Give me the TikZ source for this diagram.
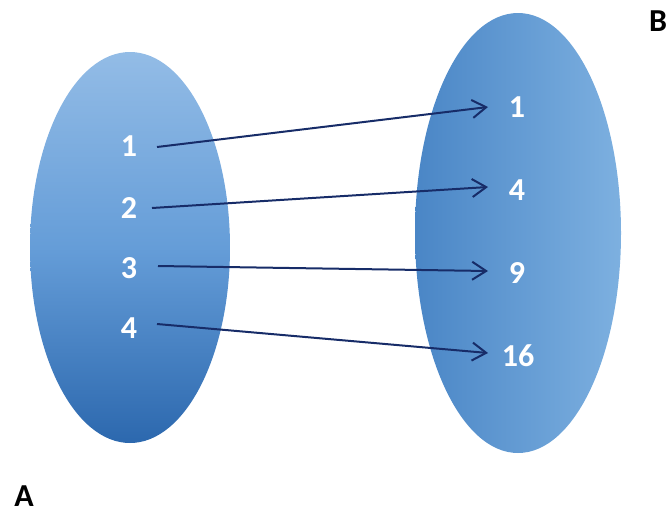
\documentclass[tikz,border=0pt]{standalone}
\usepackage{fontspec}
\setmainfont{Carlito}
\usetikzlibrary{arrows.meta,calc}
\definecolor{lefttop}{HTML}{93BCE6}
\definecolor{leftmid}{HTML}{659DD8}
\definecolor{leftbot}{HTML}{2C68AE}
\definecolor{rightl}{HTML}{4A86C6}
\definecolor{rightr}{HTML}{7DB0E0}
\definecolor{arrowc}{HTML}{172C68}
\tikzset{
  num/.style={text=white, font=\bfseries\fontsize{32}{32}\selectfont, inner sep=0pt, anchor=center},
  setlabel/.style={text=black, font=\bfseries\fontsize{32}{32}\selectfont, inner sep=0pt},
  maparrow/.style={draw=arrowc, line width=2pt, -{Straight Barb[length=14pt,width=18pt,line width=2pt]}}
}
\begin{document}
\begin{tikzpicture}[x=1pt,y=-1pt]
\useasboundingbox (0,0) rectangle (671,515);
% sets
\shade[shading=axis, top color=lefttop, bottom color=leftbot, middle color=leftmid] (130,247.5) ellipse [x radius=100, y radius=195.5];
\shade[left color=rightl, right color=rightr] (518,233) ellipse [x radius=103, y radius=220];
% domain labels
\node[num] (a1) at (129,146) {1};
\node[num] (a2) at (129,208) {2};
\node[num] (a3) at (129,268) {3};
\node[num] (a4) at (129,328) {4};
% codomain labels
\node[num] (b1) at (517,107) {1};
\node[num] (b2) at (517,190) {4};
\node[num] (b3) at (517,273) {9};
\node[num] (b4) at (518,356) {16};
% set names
\node[setlabel] (A) at (24,496) {A};
\node[setlabel] (B) at (658,21) {B};
% arrows
\coordinate (s1) at ([xshift=28pt,yshift=-1pt]a1.center);
\coordinate (s2) at ([xshift=23pt]a2.center);
\coordinate (s3) at ([xshift=29pt,yshift=2pt]a3.center);
\coordinate (s4) at ([xshift=28pt,yshift=4pt]a4.center);
\coordinate (e1) at ([xshift=-29pt]b1.center);
\coordinate (e2) at ([xshift=-29pt,yshift=3pt]b2.center);
\coordinate (e3) at ([xshift=-29pt,yshift=2pt]b3.center);
\coordinate (e4) at ([xshift=-30pt,yshift=3pt]b4.center);
\draw[maparrow] (s1) -- (e1);
\draw[maparrow] (s2) -- (e2);
\draw[maparrow] (s3) -- (e3);
\draw[maparrow] (s4) -- (e4);
\end{tikzpicture}
\end{document}
